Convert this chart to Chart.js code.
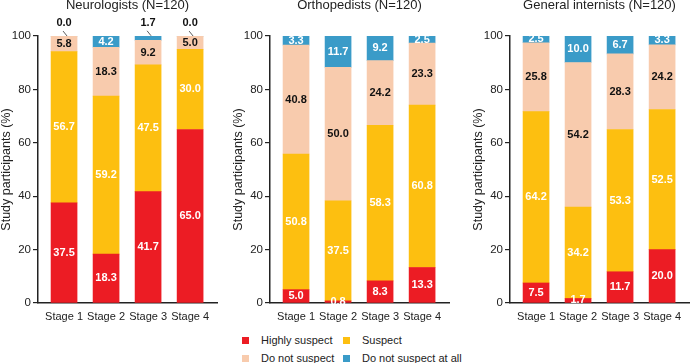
<!DOCTYPE html>
<html>
<head>
<meta charset="utf-8">
<script src="https://cdn.jsdelivr.net/npm/chart.js@4.4.0/dist/chart.umd.min.js"></script>
<style>
  body { margin: 0; background: #fff; font-family: 'Liberation Sans', Arial, sans-serif; }
  #wrap { position: relative; width: 690px; height: 363px; overflow: hidden; }
  .panel { position: absolute; top: 0; width: 218px; height: 330px; }
  #legend { position: absolute; left: 242px; top: 334px; font-size: 11px; color: #222; }
  .item { position: absolute; white-space: nowrap; line-height: 13px; }
  .item i { position: absolute; left: 0; top: 3px; width: 7px; height: 7px; }
  .item span { position: absolute; left: 19px; top: 0; }
</style>
</head>
<body>
<div id="wrap">
  <div class="panel" style="left:0px"><canvas id="c0" width="218" height="330"></canvas></div>
  <div class="panel" style="left:232px"><canvas id="c1" width="218" height="330"></canvas></div>
  <div class="panel" style="left:472px"><canvas id="c2" width="218" height="330"></canvas></div>
  <div id="legend"></div>
</div>
<script>
// categorias y series
const categories = ['Stage 1', 'Stage 2', 'Stage 3', 'Stage 4'];
const seriesNames = ['Highly suspect', 'Suspect', 'Do not suspect', 'Do not suspect at all'];
const panelTitles = ['Neurologists (N=120)', 'Orthopedists (N=120)', 'General internists (N=120)'];
const yTicks = [0, 20, 40, 60, 80, 100];

// Neurologists
const neuroHighly = [37.5, 18.3, 41.7, 65.0];
const neuroSuspect = [56.7, 59.2, 47.5, 30.0];
const neuroNot = [5.8, 18.3, 9.2, 5.0];
const neuroNotAtAll = [0.0, 4.2, 1.7, 0.0];

// Orthopedists
const orthoHighly = [5.0, 0.8, 8.3, 13.3];
const orthoSuspect = [50.8, 37.5, 58.3, 60.8];
const orthoNot = [40.8, 50.0, 24.2, 23.3];
const orthoNotAtAll = [3.3, 11.7, 9.2, 2.5];

// General internists
const giHighly = [7.5, 1.7, 11.7, 20.0];
const giSuspect = [64.2, 34.2, 53.3, 52.5];
const giNot = [25.8, 54.2, 28.3, 24.2];
const giNotAtAll = [2.5, 10.0, 6.7, 3.3];

const colors = ['#EC1C24', '#FDBF10', '#F8CBAD', '#3A9BC8'];
const labelColors = ['#fff', '#fff', '#111', '#fff'];
const family = "'Liberation Sans', Arial, sans-serif";

const panels = [
  [neuroHighly, neuroSuspect, neuroNot, neuroNotAtAll],
  [orthoHighly, orthoSuspect, orthoNot, orthoNotAtAll],
  [giHighly, giSuspect, giNot, giNotAtAll]
];

// etiquetas de valores dentro de cada segmento
const valueLabels = {
  id: 'valueLabels',
  afterDatasetsDraw(chart) {
    const ctx = chart.ctx;
    const last = chart.data.datasets.length - 1;
    ctx.save();
    ctx.font = 'bold 11px ' + family;
    ctx.textAlign = 'center';
    ctx.textBaseline = 'middle';
    chart.data.datasets.forEach((ds, d) => {
      chart.getDatasetMeta(d).data.forEach((bar, i) => {
        const v = ds.data[i].y;
        const txt = v.toFixed(1);
        if (d === last && v < 2) {
          // valor pequeño: por encima de la barra con línea guía
          ctx.fillStyle = '#111';
          ctx.fillText(txt, bar.x, bar.y - 13);
          ctx.strokeStyle = '#333';
          ctx.lineWidth = 0.8;
          ctx.beginPath();
          ctx.moveTo(bar.x - 1, bar.y - 5);
          ctx.lineTo(bar.x + 3, bar.y);
          ctx.stroke();
        } else {
          ctx.fillStyle = labelColors[d];
          ctx.fillText(txt, bar.x, (bar.y + bar.base) / 2);
        }
      });
    });
    ctx.restore();
  }
};

panels.forEach((series, p) => {
  const ctx = document.getElementById('c' + p).getContext('2d');
  new Chart(ctx, {
    type: 'bar',
    data: {
      datasets: series.map((vals, d) => ({
        label: seriesNames[d],
        data: vals.map((v, i) => ({ x: i + 1, y: v })),
        backgroundColor: colors[d],
        borderWidth: 0,
        barThickness: 26
      }))
    },
    options: {
      responsive: false,
      animation: false,
      events: [],
      layout: { padding: { left: 0, right: 1, top: 0, bottom: 0 } },
      plugins: {
        legend: { display: false },
        tooltip: { enabled: false },
        title: {
          display: true,
          text: panelTitles[p],
          fullSize: false,
          color: '#222',
          font: { size: 13, family: family, weight: 'normal', lineHeight: 0.85 },
          padding: { top: 0, bottom: 25 }
        }
      },
      scales: {
        x: {
          type: 'linear',
          stacked: true,
          offset: false,
          min: 0.38,
          max: 4.64,
          z: 1,
          afterBuildTicks: s => { s.ticks = categories.map((c, i) => ({ value: i + 1 })); },
          afterFit: s => { s.height = 27; },
          ticks: {
            callback: v => categories[v - 1],
            autoSkip: false,
            maxRotation: 0,
            color: '#222',
            padding: 7,
            font: { size: 11, family: family }
          },
          grid: { display: false, drawTicks: false, offset: false },
          border: { display: true, color: '#222', width: 1.5 }
        },
        y: {
          stacked: true,
          min: 0,
          max: 100,
          z: 1,
          afterBuildTicks: s => { s.ticks = yTicks.map(v => ({ value: v })); },
          afterFit: s => { s.width = 38; },
          ticks: { color: '#222', padding: 2, font: { size: 11.5, family: family } },
          grid: { drawOnChartArea: false, tickLength: 5, color: '#222', lineWidth: 1.2 },
          border: { display: true, color: '#222', width: 1.5 },
          title: {
            display: true,
            text: 'Study participants (%)',
            color: '#222',
            padding: 0,
            font: { size: 12.5, family: family, lineHeight: 1 }
          }
        }
      }
    },
    plugins: [valueLabels]
  });
});

// leyenda
const legend = document.getElementById('legend');
seriesNames.forEach((name, d) => {
  const item = document.createElement('div');
  item.className = 'item';
  item.style.left = (d % 2) * 101 + 'px';
  item.style.top = Math.floor(d / 2) * 17.5 + 'px';
  item.innerHTML = `<i style="background:${colors[d]}"></i><span>${name}</span>`;
  legend.appendChild(item);
});
</script>
</body>
</html>
